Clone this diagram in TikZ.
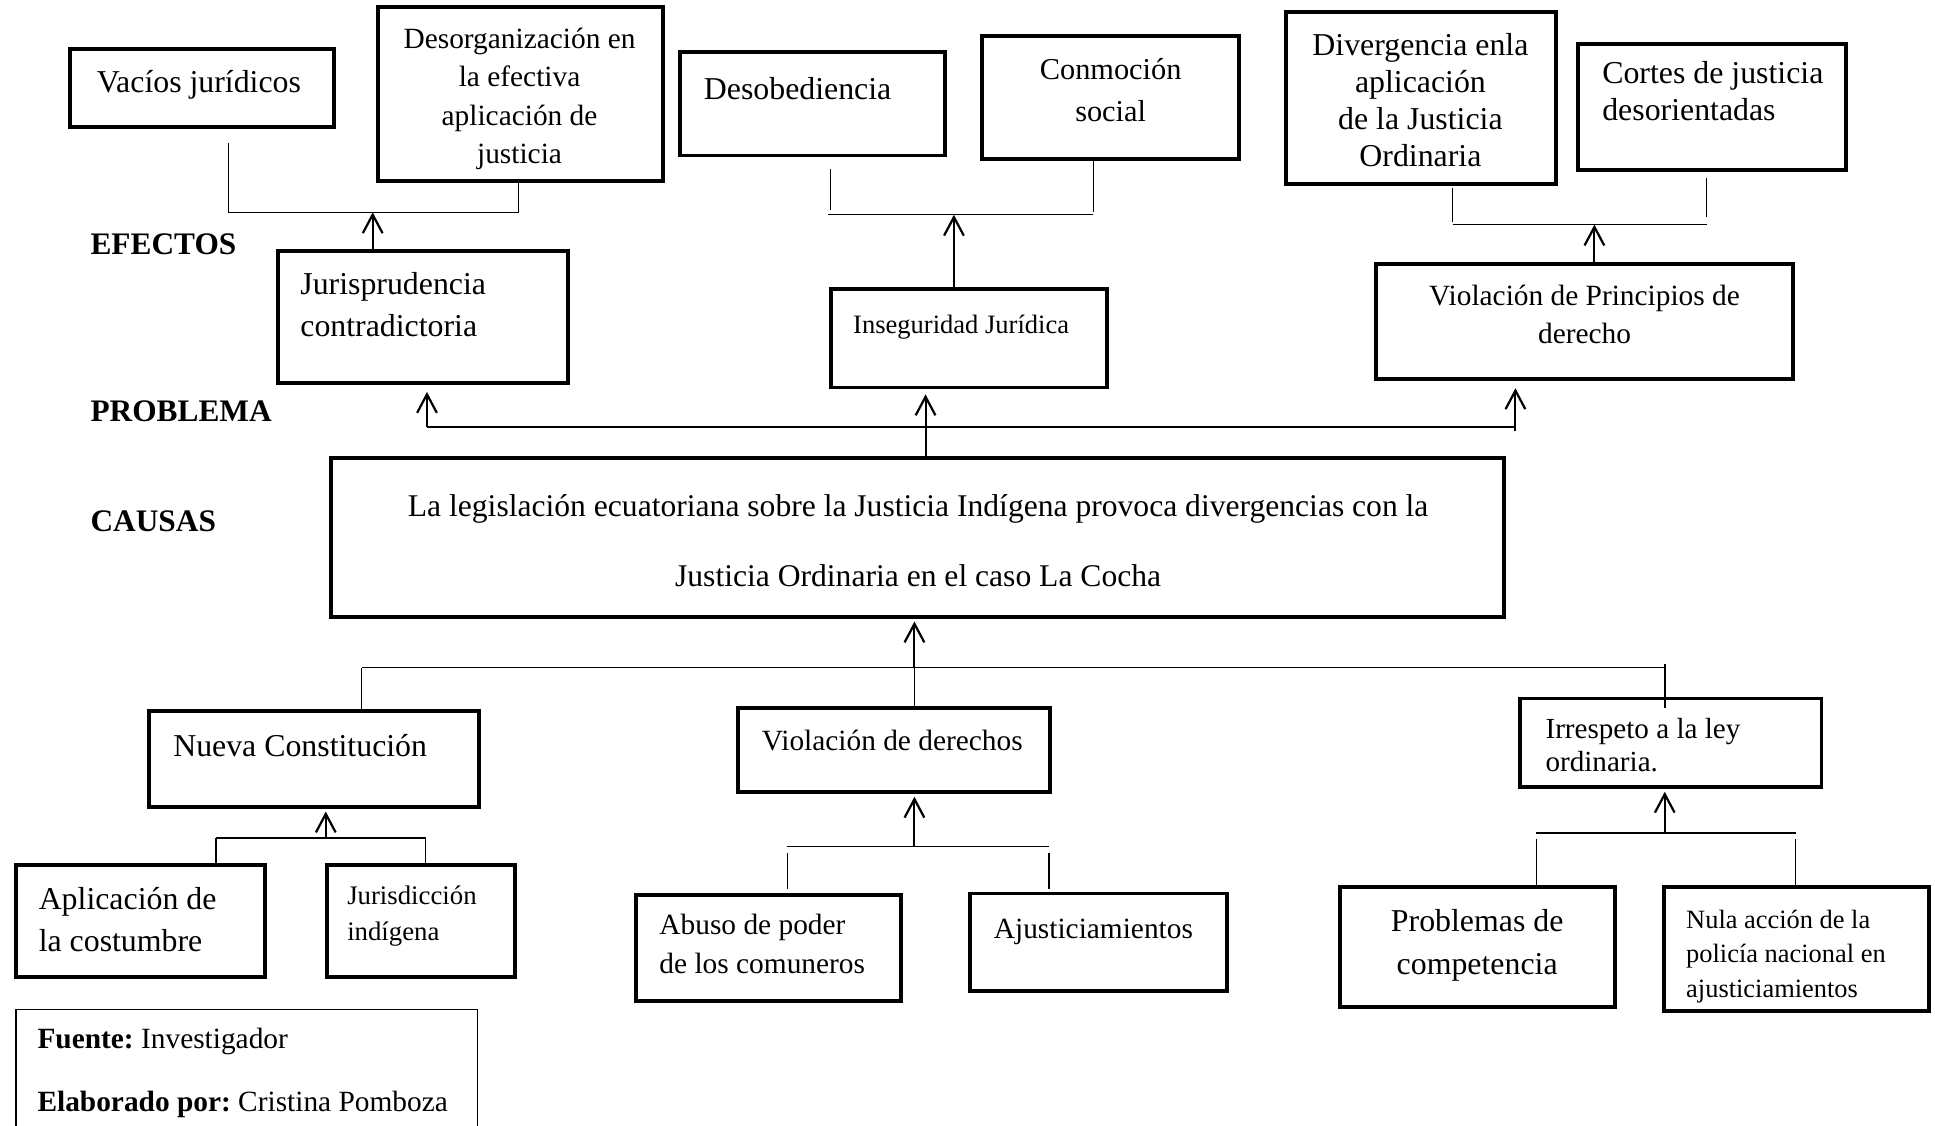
\documentclass[tikz,border=0pt]{standalone}
\usepackage{fontspec}
\setmainfont{Liberation Serif}
\usetikzlibrary{arrows.meta,fit}
\frenchspacing
\begin{document}
\begin{tikzpicture}[x=0.5pt,y=-0.5pt,
  box/.style={draw, line width=1.6pt, inner sep=0pt},
  thinbox/.style={draw, line width=0.6pt, inner sep=0pt},
  txt/.style={inner sep=0pt, font=\fontsize{12.9}{17}\selectfont},
  lnk/.style={line width=0.6pt},
  arr/.style={line width=0.8pt, -{Straight Barb[length=7.5pt,width=8pt,line width=0.9pt]}},
  lbl/.style={inner sep=0pt, anchor=west, font=\fontsize{12.7}{15}\selectfont\bfseries},
]
\useasboundingbox (0,0) rectangle (1568,912);

% ---------- effects, upper level ----------
\node[box, fit={(57,40) (271,103)}] (vac) {};
\node[txt, anchor=west] (vact) at (78,69) {Vacíos jurídicos};

\node[box, fit={(306,6) (537,147)}] (des) {};
\node[txt, align=center, font=\fontsize{11.9}{15.6}\selectfont] (dest) at (421,80)
  {Desorganización en\\la efectiva\\aplicación de\\justicia};

\node[box, fit={(551,42) (766,126)}] (dsb) {};
\node[txt, anchor=west] (dsbt) at (570,72) {Desobediencia};

\node[box, fit={(796,29) (1004,129)}] (con) {};
\node[txt, align=center, font=\fontsize{12.3}{17}\selectfont] (cont) at (900,73)
  {Conmoción\\social};

\node[box, fit={(1042,10) (1261,149)}] (div) {};
\node[txt, align=center, font=\fontsize{12.9}{15}\selectfont] (divt) at (1151,81)
  {Divergencia enla\\aplicación\\de la Justicia\\Ordinaria};

\node[box, fit={(1279,36) (1496,138)}] (cor) {};
\node[txt, anchor=west, align=left, font=\fontsize{12.9}{15}\selectfont] (cort) at (1298,74)
  {Cortes de justicia\\desorientadas};

% ---------- row labels ----------
\node[lbl] (efe) at (73,198) {EFECTOS};
\node[lbl] (pro) at (73,333) {PROBLEMA};
\node[lbl] (cau) at (73,422) {CAUSAS};

% ---------- effects, lower level ----------
\node[box, fit={(225,203) (460,310)}] (jur) {};
\node[txt, anchor=west, align=left] (jurt) at (243,247)
  {Jurisprudencia\\contradictoria};

\node[box, fit={(673,234) (897,314)}] (ins) {};
\node[txt, anchor=west, font=\fontsize{10.75}{13}\selectfont] (inst) at (691,265)
  {Inseguridad Jurídica};

\node[box, fit={(1115,214) (1453,307)}] (vio) {};
\node[txt, align=center, font=\fontsize{11.9}{15.5}\selectfont] (viot) at (1284,255)
  {Violación de Principios de\\derecho};

% ---------- central problem ----------
\node[box, fit={(268,371) (1219,500)}] (prob) {};
\node[txt, align=center, font=\fontsize{12.8}{28.5}\selectfont] (probt) at (744,438)
  {La legislación ecuatoriana sobre la Justicia Indígena provoca divergencias con la\\
   Justicia Ordinaria en el caso La Cocha};

% ---------- causes ----------
\node[box, fit={(121,576) (388,654)}] (nue) {};
\node[txt, anchor=west] (nuet) at (140,604) {Nueva Constitución};

\node[box, fit={(598,574) (851,642)}] (vde) {};
\node[txt, anchor=west, font=\fontsize{11.9}{15}\selectfont] (vdet) at (617,600)
  {Violación de derechos};

\node[box, fit={(1232,566) (1476,638)}] (irr) {};
\node[txt, anchor=west, align=left, font=\fontsize{11.8}{13.5}\selectfont] (irrt) at (1252,604)
  {Irrespeto a la ley\\ordinaria.};

% ---------- sub-causes ----------
\node[box, fit={(13,701) (215,792)}] (apl) {};
\node[txt, anchor=west, align=left] (aplt) at (31,745)
  {Aplicación de\\la costumbre};

\node[box, fit={(265,701) (417,792)}] (jid) {};
\node[txt, anchor=west, align=left, font=\fontsize{10.85}{14.5}\selectfont] (jidt) at (281,742)
  {Jurisdicción\\indígena};

\node[box, fit={(515,725) (730,811)}] (abu) {};
\node[txt, anchor=west, align=left, font=\fontsize{11.9}{16}\selectfont] (abut) at (534,765)
  {Abuso de poder\\de los comuneros};

\node[box, fit={(786,724) (994,803)}] (aju) {};
\node[txt, anchor=west, font=\fontsize{11.9}{15}\selectfont] (ajut) at (805,755)
  {Ajusticiamientos};

\node[box, fit={(1086,719) (1309,816)}] (pco) {};
\node[txt, align=center, font=\fontsize{12.9}{17.5}\selectfont] (pcot) at (1197,766)
  {Problemas de\\competencia};

\node[box, fit={(1348,719) (1563,819)}] (nul) {};
\node[txt, anchor=west, align=left, font=\fontsize{10.7}{14}\selectfont] (nult) at (1366,775)
  {Nula acción de la\\policía nacional en\\ajusticiamientos};

% ---------- source note ----------
\node[thinbox, fit={(13,818) (387,930)}] (src) {};
\node[txt, anchor=west, font=\fontsize{11.9}{15}\selectfont] (srca) at (30,844)
  {\textbf{Fuente:} Investigador};
\node[txt, anchor=west, font=\fontsize{11.9}{15}\selectfont] (srcb) at (30,895)
  {\textbf{Elaborado por:} Cristina Pomboza};

% ---------- connectors: upper effects ----------
\coordinate (e1a) at (185,116);
\coordinate (e1l) at (185,172);
\coordinate (e1m) at (302,172);
\coordinate (e1r) at (420,172);
\draw[lnk] (e1a) -- (e1l) -- (e1r) -- (des.south -| e1r);
\draw[arr] (jur.north -| e1m) -- (e1m);

\coordinate (e2a) at (673,137);
\coordinate (e2b) at (673,170);
\coordinate (e2l) at (671,174);
\coordinate (e2m) at (773,174);
\coordinate (e2r) at (886,174);
\draw[lnk] (e2a) -- (e2b);
\draw[lnk] (e2l) -- (e2r);
\draw[lnk] (con.south -| 886,0) -- (886,172);
\draw[arr] (ins.north -| e2m) -- (e2m);

\coordinate (e3a) at (1177,152);
\coordinate (e3b) at (1383,144);
\coordinate (e3l) at (1177,182);
\coordinate (e3m) at (1292,182);
\coordinate (e3r) at (1383,182);
\draw[lnk] (e3a) -- (1177,180);
\draw[lnk] (e3b) -- (1383,176);
\draw[lnk] (e3l) -- (e3r);
\draw[arr] (vio.north -| e3m) -- (e3m);

% ---------- connectors: problem to effects ----------
\coordinate (pl) at (346,346);
\coordinate (pm) at (750,346);
\coordinate (pr) at (1228,346);
\draw[lnk] (pl) -- (pr);
\draw[arr, shorten >=3pt] (pl) -- (jur.south -| pl);
\draw[arr, shorten >=2pt] (prob.north -| pm) -- (ins.south -| pm);
\draw[arr, shorten >=3pt] (1228,349) -- (vio.south -| pr);

% ---------- connectors: causes to problem ----------
\coordinate (cl) at (293,541);
\coordinate (cm) at (741,541);
\coordinate (cr) at (1349,541);
\draw[lnk] (cl) -- (cr);
\draw[lnk] (cl) -- (nue.north -| cl);
\draw[lnk] (cm) -- (vde.north -| cm);
\draw[lnk] (1349,538) -- (1349,574);
\draw[arr, shorten >=1pt] (cm) -- (prob.south -| cm);

% ---------- connectors: sub-causes ----------
\coordinate (n1l) at (175,679);
\coordinate (n1m) at (264,679);
\coordinate (n1r) at (345,679);
\draw[lnk] (n1l) -- (n1r);
\draw[lnk] (n1l) -- (apl.north -| n1l);
\draw[lnk] (n1r) -- (jid.north -| n1r);
\draw[arr, shorten >=1pt] (n1m) -- (nue.south -| n1m);

\coordinate (n2l) at (638,686);
\coordinate (n2m) at (741,686);
\coordinate (n2r) at (850,686);
\draw[lnk] (n2l) -- (n2r);
\draw[lnk] (638,691) -- (638,720);
\draw[lnk] (850,691) -- (850,720);
\draw[arr, shorten >=1pt] (n2m) -- (vde.south -| n2m);

\coordinate (n3l) at (1245,675);
\coordinate (n3m) at (1349,675);
\coordinate (n3r) at (1455,675);
\draw[lnk] (n3l) -- (n3r);
\draw[lnk] (1245,680) -- (1245,717);
\draw[lnk] (1455,680) -- (1455,717);
\draw[arr, shorten >=1pt] (n3m) -- (irr.south -| n3m);
\end{tikzpicture}
\end{document}
